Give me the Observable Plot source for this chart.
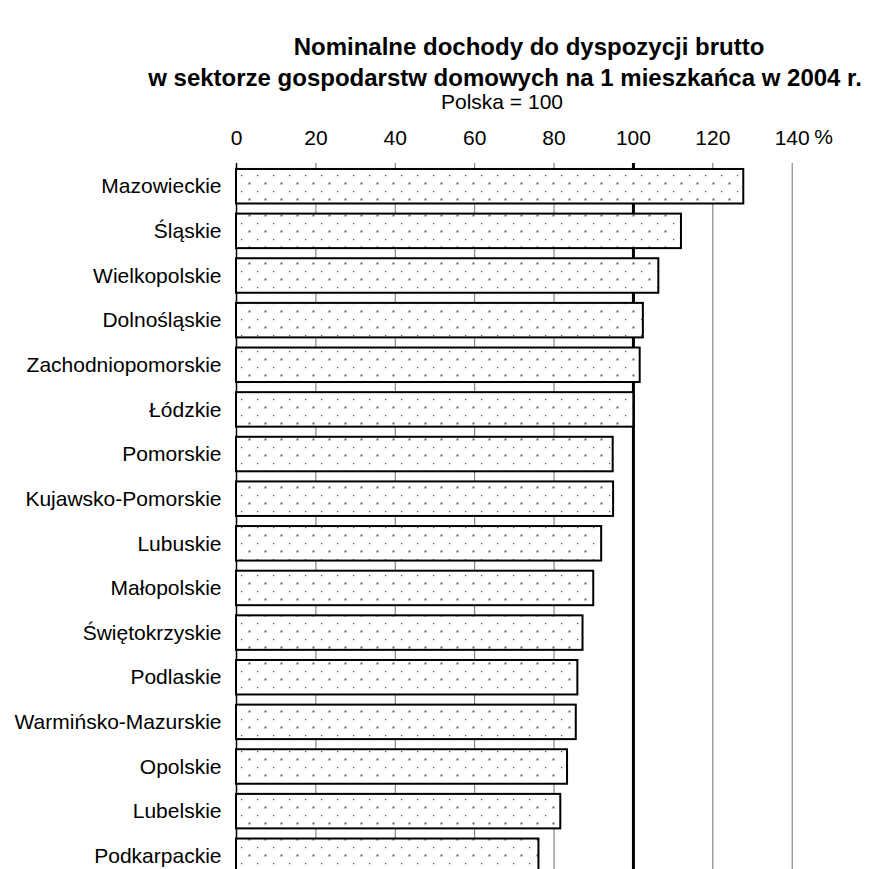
<!DOCTYPE html>
<html>
<head>
<meta charset="utf-8">
<script src="https://cdn.jsdelivr.net/npm/d3@7"></script>
<script src="https://cdn.jsdelivr.net/npm/@observablehq/plot@0.6"></script>
<style>
  html, body { margin: 0; padding: 0; background: #fff; }
  #wrap { position: relative; width: 870px; height: 869px; overflow: hidden; font-family: "Liberation Sans", Arial, sans-serif; color: #000; }
  .t { position: absolute; white-space: nowrap; transform: translateX(-50%); line-height: 1; }
  .title { font-weight: bold; font-size: 24px; line-height: 22px; }
  .sub { font-size: 21px; line-height: 20px; }
  #chart { position: absolute; left: 0; top: 110px; }
</style>
</head>
<body>
<div id="wrap">
  <div class="t title" style="left:529px; top:36px;">Nominalne dochody do dyspozycji brutto</div>
  <div class="t title" style="left:505px; top:67px;">w sektorze gospodarstw domowych na 1 mieszkańca w 2004 r.</div>
  <div class="t sub" style="left:502px; top:92px;">Polska = 100</div>
  <div id="chart"></div>
</div>
<script>
const regions = [
  "Mazowieckie", "Śląskie", "Wielkopolskie", "Dolnośląskie", "Zachodniopomorskie",
  "Łódzkie", "Pomorskie", "Kujawsko-Pomorskie", "Lubuskie", "Małopolskie",
  "Świętokrzyskie", "Podlaskie", "Warmińsko-Mazurskie", "Opolskie", "Lubelskie", "Podkarpackie"
];
const values = [127.8, 112.1, 106.4, 102.5, 101.7, 100.1, 94.9, 95.0, 92.0, 90.0, 87.3, 86.0, 85.6, 83.4, 81.7, 76.2];
const xTicks = [0, 20, 40, 60, 80, 100, 120, 140];
const gridTicks = [20, 40, 60, 80, 120, 140];
const refLine = [100];
const unitLabel = ["%"];

const data = regions.map((r, i) => ({region: r, value: values[i]}));

const svg = Plot.plot({
  width: 870,
  height: 769,
  marginTop: 53,
  marginLeft: 236,
  marginRight: 78.3,
  marginBottom: 0,
  x: {domain: [0, 140], axis: null, label: null},
  y: {domain: regions, paddingInner: 0.227, paddingOuter: 0.134, round: false, axis: null, label: null},
  style: {fontFamily: '"Liberation Sans", Arial, sans-serif', fontSize: "21px", color: "#000", background: "#fff", overflow: "visible"},
  marks: [
    Plot.ruleX(gridTicks, {stroke: "#6e6e6e", strokeWidth: 1}),
    Plot.ruleX(refLine, {stroke: "#000", strokeWidth: 3}),
    Plot.ruleX([0], {stroke: "#000", strokeWidth: 1.5}),
    Plot.barX(data, {x: "value", y: "region", fill: "url(#dots)", stroke: "#000", strokeWidth: 2}),
    Plot.axisX({anchor: "top", ticks: xTicks, tickSize: 0, tickPadding: 19, fontSize: 21, label: null}),
    Plot.axisY({anchor: "left", tickSize: 0, tickPadding: 15, fontSize: 21, label: null}),
    Plot.text(unitLabel, {x: () => 140, frameAnchor: "top", lineAnchor: "middle", text: d => d, textAnchor: "start", dx: 22, dy: -26, fontSize: 21})
  ]
});

svg.insertAdjacentHTML("afterbegin",
  '<defs><pattern id="dots" patternUnits="userSpaceOnUse" width="16" height="16">' +
  '<rect width="16" height="16" fill="#fff"/>' +
  '<rect x="1" y="1" width="1.2" height="1.2" fill="#444"/>' +
  '<rect x="8.5" y="8.5" width="2" height="2" fill="#666"/>' +
  '</pattern></defs>');

document.getElementById("chart").appendChild(svg);
</script>
</body>
</html>
